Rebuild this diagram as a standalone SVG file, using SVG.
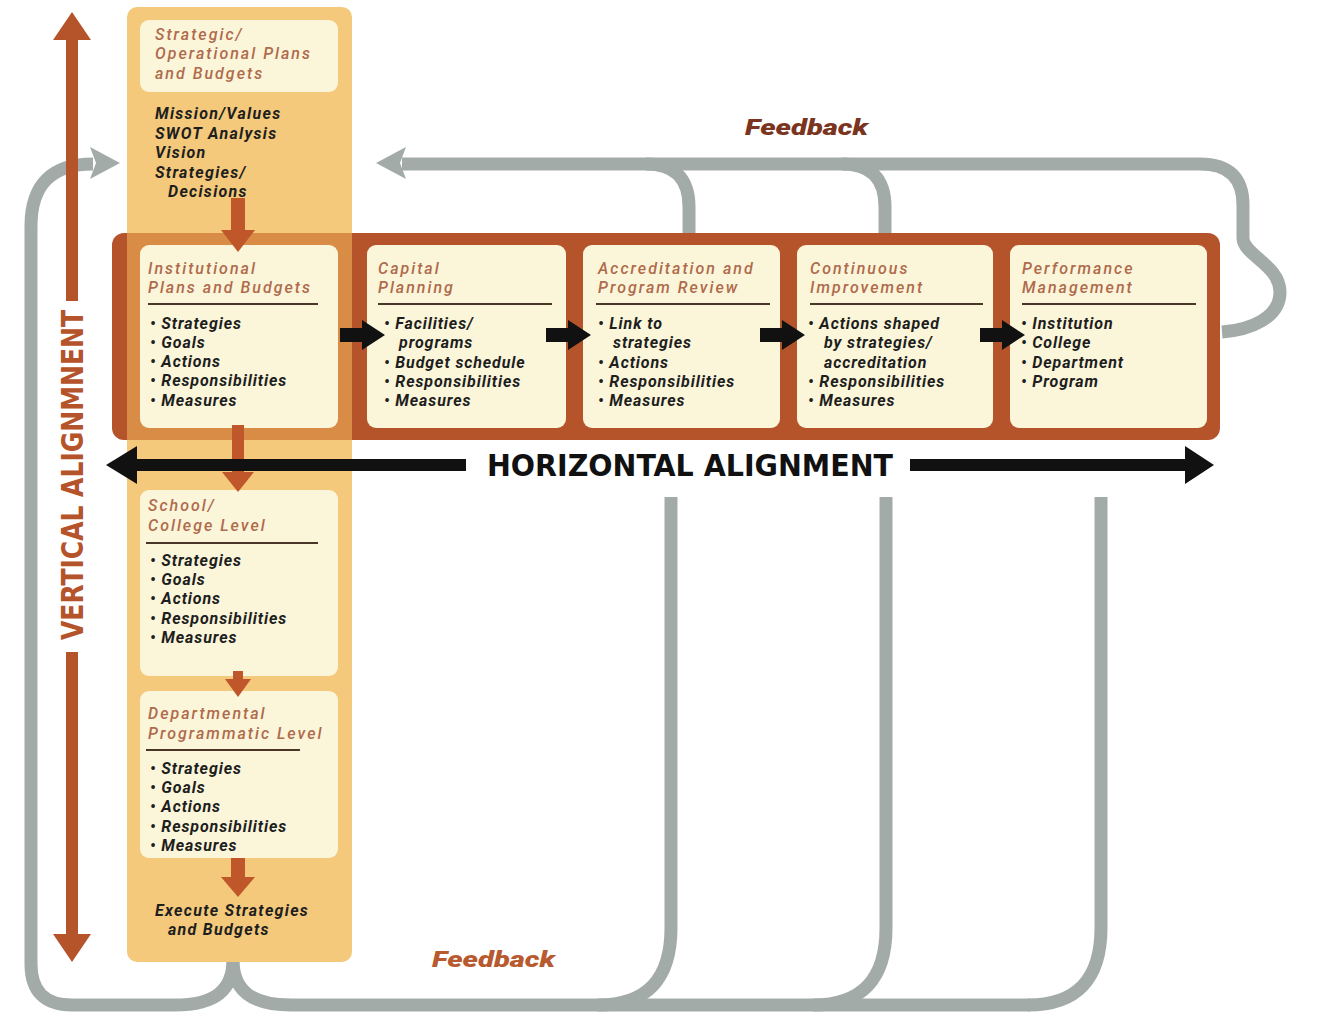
<svg xmlns="http://www.w3.org/2000/svg" width="1327" height="1027" viewBox="0 0 1327 1027">
<defs>
<style>
.fb{fill:none;stroke:#A3ABA8;stroke-width:13;stroke-linecap:butt;stroke-linejoin:round}
.gh{fill:#A3ABA8}
.col{fill:#F4C97B}
.box{fill:#FBF6DA}
.band{fill:#B5532B}
.ttl{font-family:Roboto,"Liberation Sans",sans-serif;font-style:italic;font-weight:500;font-size:16px;letter-spacing:2px;fill:#B06A4C}
.bl{font-family:Roboto,"Liberation Sans",sans-serif;font-style:italic;font-weight:700;font-size:16px;letter-spacing:0.9px;fill:#1E1E1E}
.cl{letter-spacing:1.3px}
.sep{stroke:#4A3528;stroke-width:2.2}
.ba{fill:#C0572B}
.blk{fill:#111111}
.cap{font-family:"Liberation Sans Narrow","DejaVu Sans Condensed","Liberation Sans",sans-serif;font-weight:700;font-size:30px}
.fbt{font-family:Roboto,"Liberation Sans",sans-serif;font-style:italic;font-weight:900;font-size:22px}
</style>
</defs>
<rect width="1327" height="1027" fill="#FFFFFF"/>

<g id="connectors">
<path class="fb" d="M1222,332 C1250,330 1280,318 1280,292 C1280,265 1243,255 1243,238 L1243,205 Q1243,164 1200,164 L402,164"/>
<path class="fb" d="M689,234 L689,207 Q689,164 646,164"/>
<path class="fb" d="M885,234 L885,207 Q885,164 842,164"/>
<polygon class="gh" points="376,163 406,147 400,163 406,179"/>
<path class="fb" d="M233,960 C233,990 215,1005 175,1005 L72,1005 Q31,1005 31,964 L31,226 Q31,164 93,164"/>
<polygon class="gh" points="120,163 90,147 96,163 90,179"/>
<path class="fb" d="M233,960 C233,990 251,1005 291,1005 L1030,1005"/>
<path class="fb" d="M671,497 L671,928 Q671,1005 598,1005"/>
<path class="fb" d="M886,497 L886,928 Q886,1005 813,1005"/>
<path class="fb" d="M1101,497 L1101,928 Q1101,1005 1028,1005"/>
</g>

<g id="column">
<rect class="col" x="127" y="7" width="225" height="955" rx="10"/>
</g>

<g id="band">
<rect class="band" x="112" y="233" width="1108" height="207" rx="12"/>
<rect x="127" y="233" width="225" height="207" fill="#D98C45"/>
</g>

<g id="strategic-plans">
<rect class="box" x="140" y="20" width="198" height="72" rx="9"/>
<text class="ttl" x="155" y="40">Strategic/</text>
<text class="ttl" x="155" y="59">Operational Plans</text>
<text class="ttl" x="155" y="79">and Budgets</text>
<text class="bl cl" x="155" y="119">Mission/Values</text>
<text class="bl cl" x="155" y="139">SWOT Analysis</text>
<text class="bl cl" x="155" y="158">Vision</text>
<text class="bl cl" x="155" y="178">Strategies/</text>
<text class="bl cl" x="168" y="197">Decisions</text>
</g>

<g id="institutional">
<rect class="box" x="140" y="245" width="198" height="183" rx="9"/>
<text class="ttl" x="148" y="274">Institutional</text>
<text class="ttl" x="148" y="293">Plans and Budgets</text>
<line class="sep" x1="148" y1="304" x2="318" y2="304"/>
<text class="bl" x="150" y="329">• Strategies</text>
<text class="bl" x="150" y="348">• Goals</text>
<text class="bl" x="150" y="367">• Actions</text>
<text class="bl" x="150" y="386">• Responsibilities</text>
<text class="bl" x="150" y="406">• Measures</text>
</g>

<g id="capital">
<rect class="box" x="367" y="245" width="199" height="183" rx="9"/>
<text class="ttl" x="378" y="274">Capital</text>
<text class="ttl" x="378" y="293">Planning</text>
<line class="sep" x1="378" y1="304" x2="552" y2="304"/>
<text class="bl" x="384" y="329">• Facilities/</text>
<text class="bl" x="399" y="348">programs</text>
<text class="bl" x="384" y="368">• Budget schedule</text>
<text class="bl" x="384" y="387">• Responsibilities</text>
<text class="bl" x="384" y="406">• Measures</text>
</g>

<g id="accreditation">
<rect class="box" x="583" y="245" width="197" height="183" rx="9"/>
<text class="ttl" x="598" y="274">Accreditation and</text>
<text class="ttl" x="598" y="293">Program Review</text>
<line class="sep" x1="596" y1="304" x2="770" y2="304"/>
<text class="bl" x="598" y="329">• Link to</text>
<text class="bl" x="613" y="348">strategies</text>
<text class="bl" x="598" y="368">• Actions</text>
<text class="bl" x="598" y="387">• Responsibilities</text>
<text class="bl" x="598" y="406">• Measures</text>
</g>

<g id="continuous-improvement">
<rect class="box" x="797" y="245" width="196" height="183" rx="9"/>
<text class="ttl" x="810" y="274">Continuous</text>
<text class="ttl" x="810" y="293">Improvement</text>
<line class="sep" x1="810" y1="304" x2="983" y2="304"/>
<text class="bl" x="808" y="329">• Actions shaped</text>
<text class="bl" x="824" y="348">by strategies/</text>
<text class="bl" x="824" y="368">accreditation</text>
<text class="bl" x="808" y="387">• Responsibilities</text>
<text class="bl" x="808" y="406">• Measures</text>
</g>

<g id="performance-management">
<rect class="box" x="1010" y="245" width="197" height="183" rx="9"/>
<text class="ttl" x="1022" y="274">Performance</text>
<text class="ttl" x="1022" y="293">Management</text>
<line class="sep" x1="1022" y1="304" x2="1196" y2="304"/>
<text class="bl" x="1021" y="329">• Institution</text>
<text class="bl" x="1021" y="348">• College</text>
<text class="bl" x="1021" y="368">• Department</text>
<text class="bl" x="1021" y="387">• Program</text>
</g>

<g id="college">
<rect class="box" x="140" y="490" width="198" height="186" rx="9"/>
<text class="ttl" x="148" y="511">School/</text>
<text class="ttl" x="148" y="531">College Level</text>
<line class="sep" x1="146" y1="543" x2="318" y2="543"/>
<text class="bl" x="150" y="566">• Strategies</text>
<text class="bl" x="150" y="585">• Goals</text>
<text class="bl" x="150" y="604">• Actions</text>
<text class="bl" x="150" y="624">• Responsibilities</text>
<text class="bl" x="150" y="643">• Measures</text>
</g>

<g id="departmental">
<rect class="box" x="140" y="691" width="198" height="167" rx="9"/>
<text class="ttl" x="148" y="719">Departmental</text>
<text class="ttl" x="148" y="739">Programmatic Level</text>
<line class="sep" x1="146" y1="750" x2="300" y2="750"/>
<text class="bl" x="150" y="774">• Strategies</text>
<text class="bl" x="150" y="793">• Goals</text>
<text class="bl" x="150" y="812">• Actions</text>
<text class="bl" x="150" y="832">• Responsibilities</text>
<text class="bl" x="150" y="851">• Measures</text>
</g>

<g id="execute">
<text class="bl cl" x="155" y="916">Execute Strategies</text>
<text class="bl cl" x="168" y="935">and Budgets</text>
</g>

<g id="flow-arrows">
<rect class="ba" x="231" y="198" width="14" height="34"/>
<polygon class="ba" points="221,230 255,230 238,252"/>
<rect class="ba" x="232" y="425" width="12" height="50"/>
<polygon class="ba" points="222,472 254,472 238,492"/>
<rect class="ba" x="233" y="671" width="10" height="10"/>
<polygon class="ba" points="225,679 251,679 238,697"/>
<rect class="ba" x="231" y="858" width="14" height="22"/>
<polygon class="ba" points="221,877 255,877 238,897"/>
<polygon class="blk" points="340,328 362,328 362,320 385,335 362,350 362,342 340,342"/>
<polygon class="blk" points="546,328 568,328 568,320 591,335 568,350 568,342 546,342"/>
<polygon class="blk" points="760,328 782,328 782,320 805,335 782,350 782,342 760,342"/>
<polygon class="blk" points="980,328 1002,328 1002,320 1025,335 1002,350 1002,342 980,342"/>
</g>

<g id="horizontal-alignment">
<rect class="blk" x="134" y="459" width="332" height="12"/>
<polygon class="blk" points="106,465 137,446 137,484"/>
<rect class="blk" x="910" y="459" width="278" height="12"/>
<polygon class="blk" points="1214,465 1185,446 1185,484"/>
<text class="cap" x="487" y="476" textLength="406" lengthAdjust="spacingAndGlyphs" fill="#111111">HORIZONTAL ALIGNMENT</text>
</g>

<g id="vertical-alignment">
<rect class="band" x="66" y="38" width="12" height="263"/>
<polygon class="band" points="72,12 53,40 91,40"/>
<rect class="band" x="66" y="652" width="12" height="284"/>
<polygon class="band" points="53,934 91,934 72,962"/>
<text class="cap" transform="translate(83,475) rotate(-90)" x="0" y="0" text-anchor="middle" textLength="330" lengthAdjust="spacingAndGlyphs" fill="#B5532B">VERTICAL ALIGNMNENT</text>
</g>

<g id="feedback-labels">
<text class="fbt" x="745" y="135" textLength="123" lengthAdjust="spacingAndGlyphs" fill="#7A3420">Feedback</text>
<text class="fbt" x="432" y="967" textLength="123" lengthAdjust="spacingAndGlyphs" fill="#B85A30">Feedback</text>
</g>
</svg>
